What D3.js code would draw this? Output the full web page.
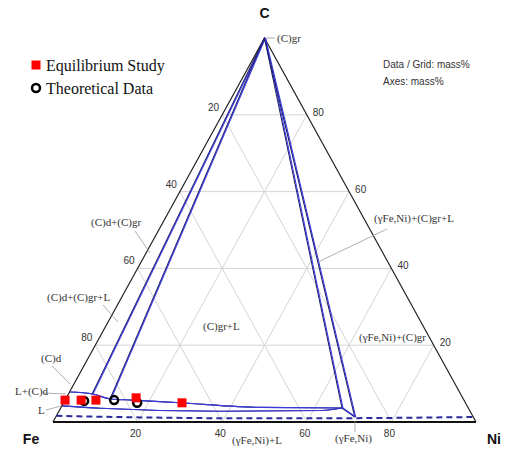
<!DOCTYPE html>
<html lang="en">
<head>
<meta charset="UTF-8">
<title>Fe-Ni-C ternary section</title>
<script src="https://d3js.org/d3.v7.min.js"></script>
<style>
  body { margin: 0; background: #fff; }
  svg { display: block; }
  .tick { font-family: "Liberation Sans", Arial, sans-serif; font-size: 10px; fill: #333; }
  .phase { font-family: "Liberation Serif", "Times New Roman", serif; font-size: 11px; fill: #333; }
  .vertex { font-family: "Liberation Sans", Arial, sans-serif; font-size: 14px; font-weight: bold; fill: #111; }
</style>
</head>
<body>
<svg width="505" height="449"></svg>
<script>
// all compositions are [Ni, C] in mass%, Fe is the balance
const gridTicks = [20, 40, 60, 80];
const vertexNames = ["Fe", "Ni", "C"];
const equilibriumStudy = [[0, 5.7], [3.8, 5.7], [7.3, 5.7], [16.5, 6.3], [28, 5.0]];
const theoreticalData = [[4.6, 5.5], [11.6, 5.7], [17.4, 5.0]];
const liquidusUpper = [[0, 7.8], [5.6, 7.3], [10.5, 6.0], [16, 5.7], [27.5, 5.0], [47, 3.8], [66.5, 3.65]];
const liquidusLower = [[0, 4.2], [9.3, 3.6], [38.2, 2.8], [62, 3.0], [66.5, 3.65]];
const cornerLink = [[66.5, 3.65], [70.7, 1.3]];
const dashedBoundary = [[0, 1.6], [20, 1.2], [48, 0.95], [70, 1.0], [98.5, 1.3]];
const graphiteRayEnds = [[5.6, 7.3], [10.5, 6.0], [66.5, 3.65], [70.7, 1.3]];
const phaseNames = ["(C)gr", "(C)d+(C)gr", "(C)d+(C)gr+L", "(C)d", "L+(C)d", "L", "(C)gr+L",
  "(\u03b3Fe,Ni)+(C)gr+L", "(\u03b3Fe,Ni)+(C)gr", "(\u03b3Fe,Ni)+L", "(\u03b3Fe,Ni)"];
const legendNames = ["Equilibrium Study", "Theoretical Data"];
const unitNotes = ["Data / Grid: mass%", "Axes: mass%"];

const svg = d3.select("svg");

// ternary projection: horizontal = Ni + C/2, vertical = C
const x = d3.scaleLinear().domain([0, 100]).range([53, 476]);
const y = d3.scaleLinear().domain([0, 100]).range([422, 38]);
const px = d => x(d[0] + d[1] / 2);
const py = d => y(d[1]);
const line = d3.line().x(px).y(py);
const smooth = d3.line().x(px).y(py).curve(d3.curveMonotoneX);

// grid
const grid = svg.append("g").attr("stroke", "#d4d4d4").attr("stroke-width", 1);
gridTicks.forEach(t => {
  grid.append("path").attr("d", line([[0, t], [100 - t, t]]));          // const C
  grid.append("path").attr("d", line([[t, 0], [t, 100 - t]]));          // const Ni
  grid.append("path").attr("d", line([[100 - t, 0], [0, 100 - t]]));    // const Fe
});

// frame
svg.append("path").attr("d", line([[0, 0], [0, 100], [100, 0]]))
  .attr("fill", "none").attr("stroke", "#222").attr("stroke-width", 1.2);
svg.append("path").attr("d", line([[0, 0], [100, 0]]))
  .attr("stroke", "#111").attr("stroke-width", 2);

// tick labels
const ticks = svg.append("g").attr("class", "tick");
gridTicks.forEach(t => {
  const l = [0, 100 - t];   // Fe axis on the left edge
  ticks.append("text").attr("x", px(l) - 3).attr("y", py(l) - 4).attr("text-anchor", "end").text(t);
  const r = [100 - t, t];   // C axis on the right edge
  ticks.append("text").attr("x", px(r) + 6).attr("y", py(r) + 1).text(t);
  const b = [t, 0];         // Ni axis on the bottom
  ticks.append("text").attr("x", px(b) - 2).attr("y", py(b) + 15).attr("text-anchor", "middle").text(t);
});

// phase boundaries, drawn as navy/blue double strokes
function boundary(pts, gen) {
  [["#1c1c5c", 0], ["#3a3ae0", 0.9]].forEach(([c, dx]) => {
    svg.append("path").attr("d", gen(pts)).attr("fill", "none")
      .attr("stroke", c).attr("stroke-width", 1.1)
      .attr("transform", `translate(${dx},0)`);
  });
}
graphiteRayEnds.forEach(p => boundary([[0, 100], p], line));
boundary(liquidusUpper, smooth);
boundary(liquidusLower, smooth);
boundary(cornerLink, line);
svg.append("path").attr("d", smooth(dashedBoundary)).attr("fill", "none")
  .attr("stroke", "#2a2a9a").attr("stroke-width", 2).attr("stroke-dasharray", "6,4");

// phase labels with leaders
const phaseLayout = [
  { x: 277, y: 42, lead: [[266, 38], [275, 38]] },
  { x: 91, y: 226, lead: [[135, 231], [150, 253]] },
  { x: 47, y: 301, lead: [[103, 305], [118, 322]] },
  { x: 41, y: 362, lead: [[52, 366], [70, 384]] },
  { x: 15, y: 395, lead: [[44, 393], [66, 394]] },
  { x: 38, y: 414, lead: [[46, 410], [61, 406]] },
  { x: 203, y: 330 },
  { x: 374, y: 222, lead: [[387, 229], [318, 262]] },
  { x: 359, y: 341 },
  { x: 232, y: 444 },
  { x: 335, y: 442, lead: [[355, 432], [355, 421]] }
];
const phases = svg.append("g");
phaseNames.forEach((name, i) => {
  const p = phaseLayout[i];
  if (p.lead) phases.append("path").attr("d", d3.line()(p.lead))
    .attr("stroke", "#9a9a9a").attr("stroke-width", 0.8);
  phases.append("text").attr("class", "phase").attr("x", p.x).attr("y", p.y).text(name);
});

// data points
svg.append("g").selectAll("circle").data(theoreticalData).join("circle")
  .attr("cx", px).attr("cy", py).attr("r", 4)
  .attr("fill", "none").attr("stroke", "#000").attr("stroke-width", 2.5);
svg.append("g").selectAll("rect").data(equilibriumStudy).join("rect")
  .attr("x", d => px(d) - 4.5).attr("y", d => py(d) - 4.5)
  .attr("width", 9).attr("height", 9).attr("fill", "#f00");

// vertex names
const vPos = [[[0, 0], -22, 22], [[100, 0], 18, 22], [[0, 100], 0, -20]];
vertexNames.forEach((n, i) => {
  const [p, dx, dy] = vPos[i];
  svg.append("text").attr("class", "vertex").attr("x", px(p) + dx).attr("y", py(p) + dy)
    .attr("text-anchor", "middle").text(n);
});

// legend
const legend = svg.append("g").attr("font-family", "'Liberation Serif', 'Times New Roman', serif")
  .attr("font-size", 16).attr("fill", "#111");
legend.append("rect").attr("x", 31.5).attr("y", 60.5).attr("width", 9).attr("height", 9).attr("fill", "#f00");
legend.append("text").attr("x", 46).attr("y", 71).text(legendNames[0]);
legend.append("circle").attr("cx", 36).attr("cy", 88).attr("r", 4)
  .attr("fill", "none").attr("stroke", "#000").attr("stroke-width", 2.5);
legend.append("text").attr("x", 46).attr("y", 94).text(legendNames[1]);

// unit notes
svg.append("g").attr("class", "tick").selectAll("text").data(unitNotes).join("text")
  .attr("x", 383).attr("y", (d, i) => 68 + i * 17).text(d => d);
</script>
</body>
</html>
